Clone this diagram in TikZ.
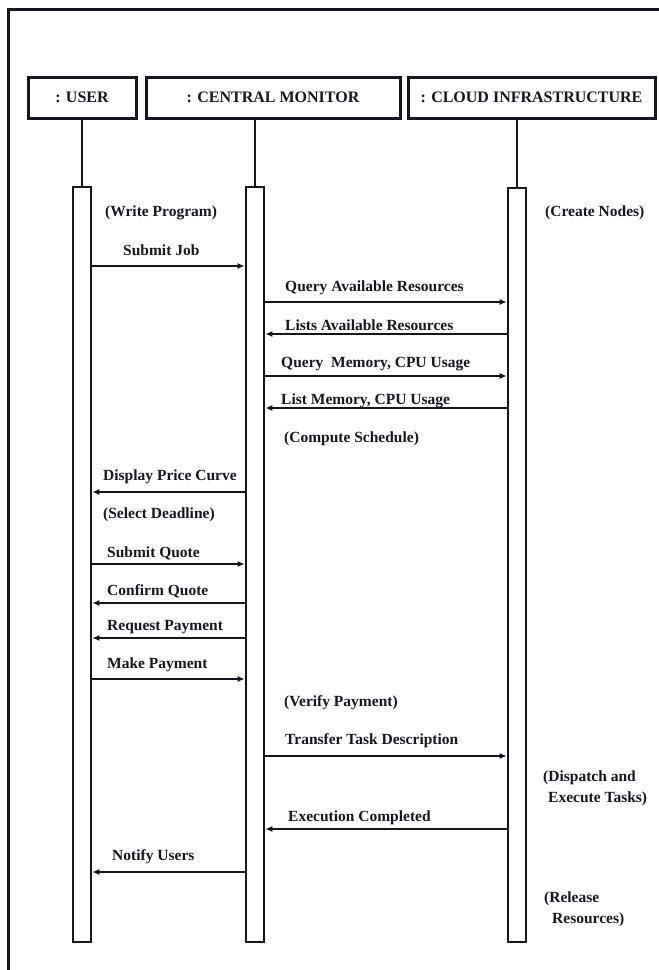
\documentclass[tikz,border=0pt]{standalone}
\usepackage{fontspec}
\setmainfont{Liberation Serif}
\usetikzlibrary{arrows.meta}
\definecolor{ink}{RGB}{22,22,32}
\begin{document}
\begin{tikzpicture}[x=1pt,y=-1pt,
  txt/.style={font=\fontsize{15.5}{18}\selectfont\bfseries, text=ink, inner sep=0pt, anchor=west},
  head/.style={draw=ink, line width=3pt, minimum height=41pt, inner sep=0pt,
    font=\fontsize{16}{19}\selectfont\bfseries, text=ink},
  bar/.style={draw=ink, line width=2.6pt, minimum width=18pt, inner sep=0pt},
  life/.style={draw=ink, line width=2pt},
  msg/.style={draw=ink, line width=1.7pt, -{Latex[length=7pt,width=6pt]}},
  frame/.style={draw=ink, line width=3pt}]
\useasboundingbox (0,0) rectangle (659,970);

% outer frame
\draw[frame] (8,970) -- (8,9.5) -- (659,9.5);

% participants
\node[head, minimum width=108pt] (uhead) at (82,97.5) {: USER};
\node[head, minimum width=254pt] (chead) at (273,97.5) {: CENTRAL MONITOR};
\node[head, minimum width=247pt] (khead) at (531.5,97.5) {: CLOUD INFRASTRUCTURE};

% activation bars
\node[bar, minimum height=755pt] (ubar) at (82,564.5) {};
\node[bar, minimum height=755pt] (cbar) at (255,564.5) {};
\node[bar, minimum height=754pt] (kbar) at (517,565) {};

% lifelines
\draw[life] (uhead.south) -- (ubar.north);
\draw[life] (chead.south -| cbar.north) -- (cbar.north);
\draw[life] (khead.south -| kbar.north) -- (kbar.north);

% local activities
\node[txt] (n1) at (105,213) {(Write Program)};
\node[txt] (n2) at (545,213) {(Create Nodes)};
\node[txt] (n3) at (284,439) {(Compute Schedule)};
\node[txt] (n4) at (103,515) {(Select Deadline)};
\node[txt] (n5) at (284,703) {(Verify Payment)};
\node[txt] (n6) at (543,778) {(Dispatch and};
\node[txt] (n7) at (548,799) {Execute Tasks)};
\node[txt] (n8) at (544,899) {(Release};
\node[txt] (n9) at (552,920) {Resources)};

% messages
\node[txt] (m1) at (123,250) {Submit Job};
\draw[msg] (ubar.east |- 0,266) -- (cbar.west |- 0,266);

\node[txt] (m2) at (285,288) {Query Available Resources};
\draw[msg] (cbar.east |- 0,302) -- (kbar.west |- 0,302);

\node[txt] (m3) at (285,325) {Lists Available Resources};
\draw[msg] (kbar.west |- 0,334) -- (cbar.east |- 0,334);

\node[txt] (m4) at (281,364) {Query\ \ Memory, CPU Usage};
\draw[msg] (cbar.east |- 0,376) -- (kbar.west |- 0,376);

\node[txt] (m5) at (281,401) {List Memory, CPU Usage};
\draw[msg] (kbar.west |- 0,408) -- (cbar.east |- 0,408);

\node[txt] (m6) at (103,477) {Display Price Curve};
\draw[msg] (cbar.west |- 0,492) -- (ubar.east |- 0,492);

\node[txt] (m7) at (107,553) {Submit Quote};
\draw[msg] (ubar.east |- 0,564) -- (cbar.west |- 0,564);

\node[txt] (m8) at (107,591) {Confirm Quote};
\draw[msg] (cbar.west |- 0,603) -- (ubar.east |- 0,603);

\node[txt] (m9) at (107,627) {Request Payment};
\draw[msg] (cbar.west |- 0,638) -- (ubar.east |- 0,638);

\node[txt] (m10) at (107,665) {Make Payment};
\draw[msg] (ubar.east |- 0,679) -- (cbar.west |- 0,679);

\node[txt] (m11) at (285,741) {Transfer Task Description};
\draw[msg] (cbar.east |- 0,756) -- (kbar.west |- 0,756);

\node[txt] (m12) at (288,818) {Execution Completed};
\draw[msg] (kbar.west |- 0,829) -- (cbar.east |- 0,829);

\node[txt] (m13) at (112,857) {Notify Users};
\draw[msg] (cbar.west |- 0,872) -- (ubar.east |- 0,872);
\end{tikzpicture}
\end{document}
